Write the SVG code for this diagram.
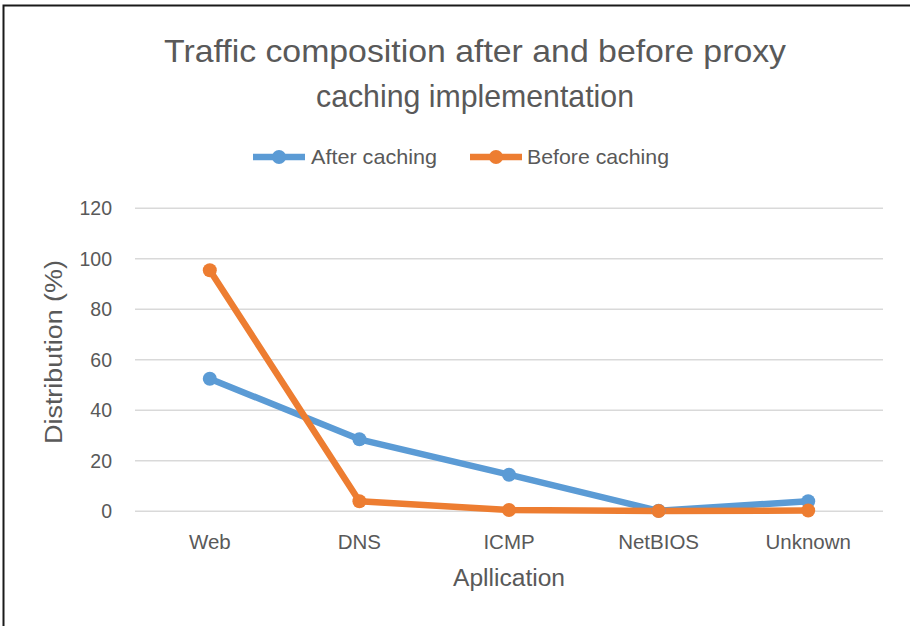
<svg xmlns="http://www.w3.org/2000/svg" width="910" height="626" viewBox="0 0 910 626">
<style>
text{font-family:"Liberation Sans","Open Sans",sans-serif;fill:#595959}
.grid{stroke:#D9D9D9;stroke-width:1.5}
.tick{font-size:19.5px;text-anchor:end}
.cat{font-size:20.5px;text-anchor:middle}
.s1{fill:none;stroke:#5B9BD5;stroke-width:6.5;stroke-linejoin:round}
.s2{fill:none;stroke:#ED7D31;stroke-width:6.5;stroke-linejoin:round}
.m1{fill:#5B9BD5}
.m2{fill:#ED7D31}
</style>
<rect x="0" y="0" width="910" height="626" fill="#fff"/>
<rect x="3.5" y="5.5" width="930" height="650" fill="none" stroke="#1a1a1a" stroke-width="2"/>
<g id="title">
<text x="475" y="62" font-size="32" text-anchor="middle" textLength="622" lengthAdjust="spacingAndGlyphs">Traffic composition after and before proxy</text>
<text x="475" y="107" font-size="32" text-anchor="middle" textLength="318" lengthAdjust="spacingAndGlyphs">caching implementation</text>
</g>
<g id="legend">
<line x1="253" y1="157" x2="305" y2="157" stroke="#5B9BD5" stroke-width="6.5"/>
<circle cx="279" cy="157" r="7" class="m1"/>
<text x="311" y="164" font-size="21" textLength="126" lengthAdjust="spacingAndGlyphs">After caching</text>
<line x1="470" y1="157" x2="522" y2="157" stroke="#ED7D31" stroke-width="6.5"/>
<circle cx="496" cy="157" r="7" class="m2"/>
<text x="527" y="164" font-size="21" textLength="142" lengthAdjust="spacingAndGlyphs">Before caching</text>
</g>
<g id="gridlines">
<line class="grid" x1="135" y1="208.3" x2="883" y2="208.3"/>
<line class="grid" x1="135" y1="258.8" x2="883" y2="258.8"/>
<line class="grid" x1="135" y1="309.3" x2="883" y2="309.3"/>
<line class="grid" x1="135" y1="359.8" x2="883" y2="359.8"/>
<line class="grid" x1="135" y1="410.3" x2="883" y2="410.3"/>
<line class="grid" x1="135" y1="460.8" x2="883" y2="460.8"/>
<line class="grid" x1="135" y1="511.3" x2="883" y2="511.3"/>
</g>
<g id="y-axis">
<text class="tick" x="112" y="215">120</text>
<text class="tick" x="112" y="265.5">100</text>
<text class="tick" x="112" y="316">80</text>
<text class="tick" x="112" y="366.5">60</text>
<text class="tick" x="112" y="417">40</text>
<text class="tick" x="112" y="467.5">20</text>
<text class="tick" x="112" y="518">0</text>
<text x="0" y="0" font-size="23" text-anchor="middle" textLength="184" lengthAdjust="spacingAndGlyphs" transform="translate(62,352) rotate(-90)">Distribution (%)</text>
</g>
<g id="x-axis">
<text class="cat" x="209.8" y="549">Web</text>
<text class="cat" x="359.4" y="549">DNS</text>
<text class="cat" x="509" y="549">ICMP</text>
<text class="cat" x="658.6" y="549">NetBIOS</text>
<text class="cat" x="808.2" y="549">Unknown</text>
<text x="509" y="586" font-size="23" text-anchor="middle" textLength="112" lengthAdjust="spacingAndGlyphs">Apllication</text>
</g>
<g id="connectors">
<polyline id="after-caching" class="s1" points="209.8,378.7 359.4,439.3 509,474.7 658.6,510.8 808.2,501.2"/>
<polyline id="before-caching" class="s2" points="209.8,270.2 359.4,501.2 509,510 658.6,511 808.2,510.5"/>
</g>
<g id="markers-after">
<circle class="m1" cx="209.8" cy="378.7" r="7"/>
<circle class="m1" cx="359.4" cy="439.3" r="7"/>
<circle class="m1" cx="509" cy="474.7" r="7"/>
<circle class="m1" cx="658.6" cy="510.8" r="7"/>
<circle class="m1" cx="808.2" cy="501.2" r="7"/>
</g>
<g id="markers-before">
<circle class="m2" cx="209.8" cy="270.2" r="7"/>
<circle class="m2" cx="359.4" cy="501.2" r="7"/>
<circle class="m2" cx="509" cy="510" r="7"/>
<circle class="m2" cx="658.6" cy="511" r="7"/>
<circle class="m2" cx="808.2" cy="510.5" r="7"/>
</g>
</svg>
